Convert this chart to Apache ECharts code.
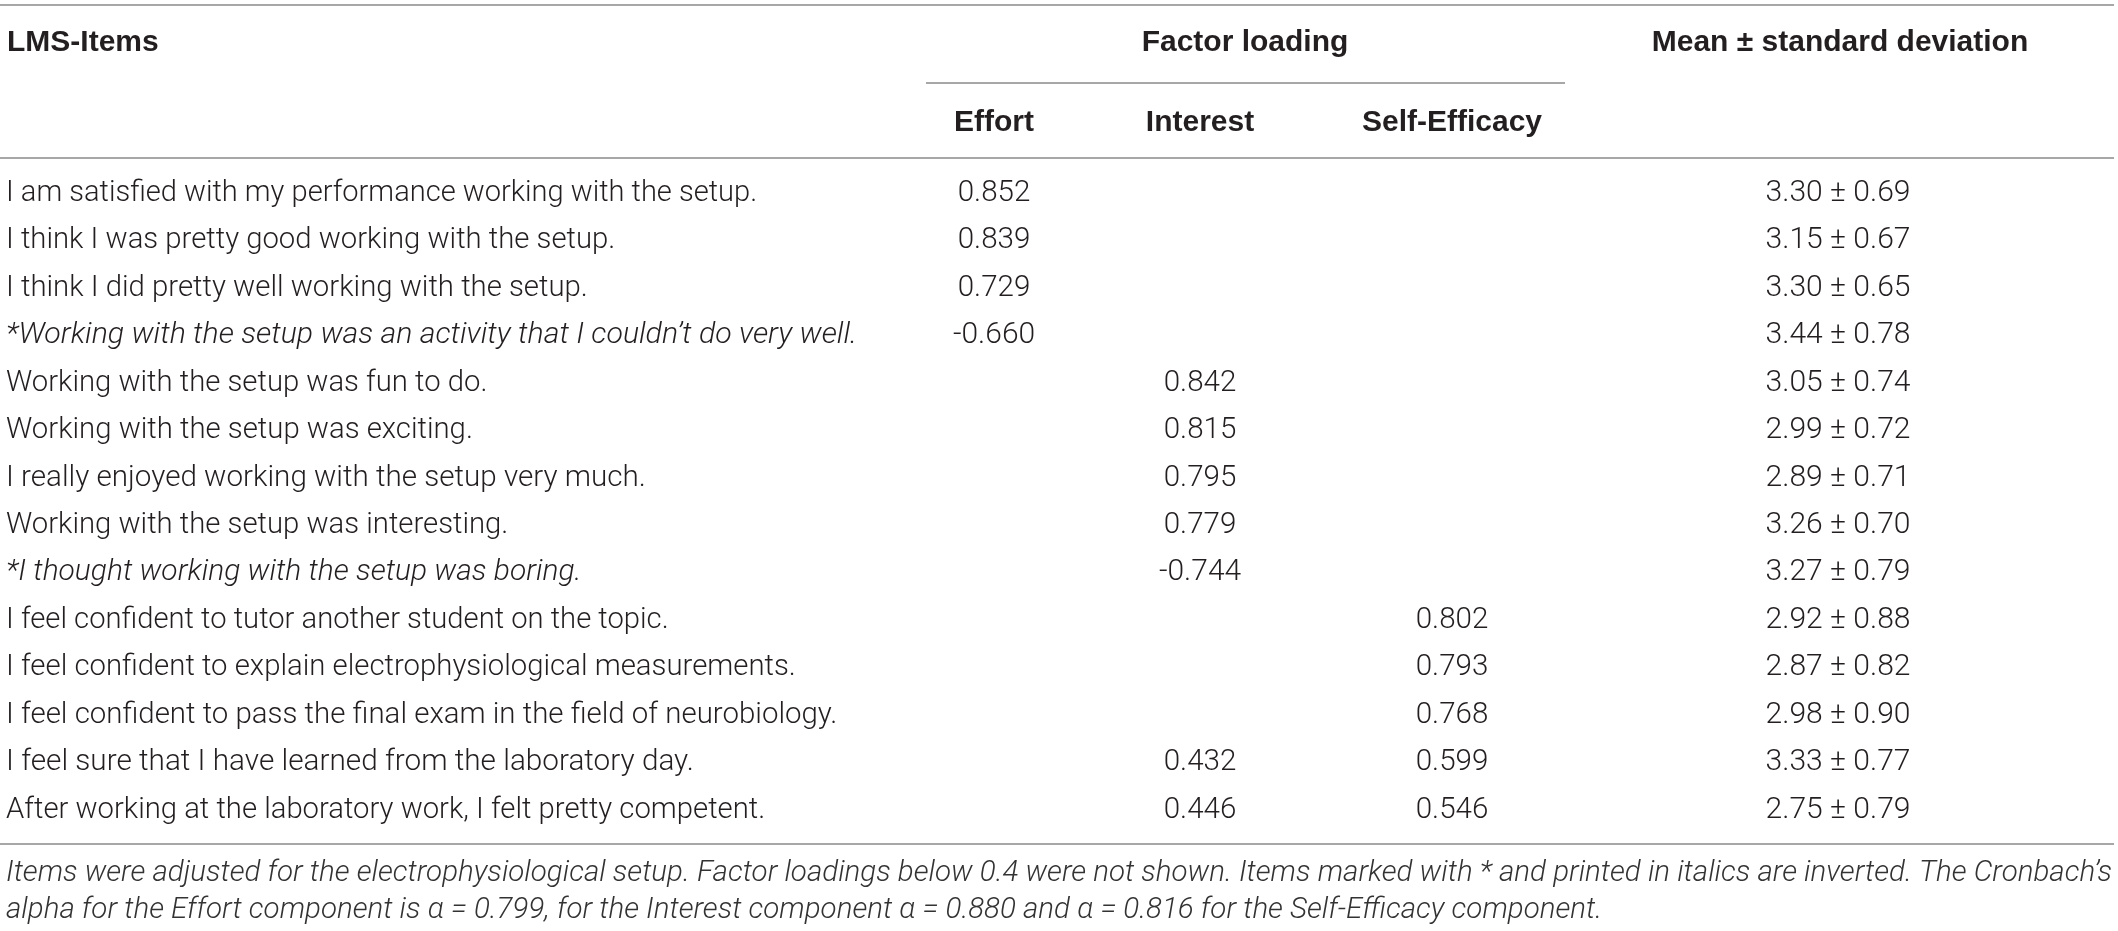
<!DOCTYPE html>
<html>
<head>
<meta charset="utf-8">
<script src="https://cdn.jsdelivr.net/npm/echarts@6/dist/echarts.min.js"></script>
<style>
  html, body { margin: 0; padding: 0; background: #ffffff; }
  #chart { width: 2118px; height: 931px; }
</style>
</head>
<body>
<div id="chart"></div>
<script>
// ---------- data ----------
const items = [
  "I am satisfied with my performance working with the setup.",
  "I think I was pretty good working with the setup.",
  "I think I did pretty well working with the setup.",
  "*Working with the setup was an activity that I couldn\u2019t do very well.",
  "Working with the setup was fun to do.",
  "Working with the setup was exciting.",
  "I really enjoyed working with the setup very much.",
  "Working with the setup was interesting.",
  "*I thought working with the setup was boring.",
  "I feel confident to tutor another student on the topic.",
  "I feel confident to explain electrophysiological measurements.",
  "I feel confident to pass the final exam in the field of neurobiology.",
  "I feel sure that I have learned from the laboratory day.",
  "After working at the laboratory work, I felt pretty competent."
];
const effort       = [0.852, 0.839, 0.729, -0.660, null, null, null, null, null, null, null, null, null, null];
const interest     = [null, null, null, null, 0.842, 0.815, 0.795, 0.779, -0.744, null, null, null, 0.432, 0.446];
const selfEfficacy = [null, null, null, null, null, null, null, null, null, 0.802, 0.793, 0.768, 0.599, 0.546];
const means        = [3.30, 3.15, 3.30, 3.44, 3.05, 2.99, 2.89, 3.26, 3.27, 2.92, 2.87, 2.98, 3.33, 2.75];
const sds          = [0.69, 0.67, 0.65, 0.78, 0.74, 0.72, 0.71, 0.70, 0.79, 0.88, 0.82, 0.90, 0.77, 0.79];

const headerTop    = ["LMS-Items", "Factor loading", "Mean \u00b1 standard deviation"];
const headerSub    = ["Effort", "Interest", "Self-Efficacy"];
const footnote = [
  "Items were adjusted for the electrophysiological setup. Factor loadings below 0.4 were not shown. Items marked with * and printed in italics are inverted. The Cronbach\u2019s",
  "alpha for the Effort component is \u03b1 = 0.799, for the Interest component \u03b1 = 0.880 and \u03b1 = 0.816 for the Self-Efficacy component."
];

// ---------- layout (not data) ----------
const W = 2118, H = 931;
const colX = { item: 6, effort: 994, interest: 1200, self: 1452, mean: 1838 };
const textColor = "#231f20";
const ruleColor = "#8a8a8a";
const bodySize = 29;
const bodyFont = (italic) => (italic ? "italic " : "") + "300 " + bodySize + "px Roboto";
const refFont  = (italic) => (italic ? "italic " : "") + bodySize + "px 'Liberation Sans'";

const cvs = document.createElement("canvas").getContext("2d");
function measure(t, f) { cvs.font = f; return cvs.measureText(t).width; }
function fitScale(t, italic) {
  const a = measure(t, refFont(italic)), b = measure(t, bodyFont(italic));
  return b > 0 ? a / b : 1;
}

const rowIdx = items.map((_, i) => i);

function textSeries(name, xPos, texts, align) {
  const data = [];
  texts.forEach((t, i) => { if (t !== null) data.push([xPos, i, t]); });
  return {
    type: "custom",
    name: name,
    coordinateSystem: "cartesian2d",
    silent: true,
    data: data,
    renderItem: function (params, api) {
      const p = api.coord([api.value(0), api.value(1)]);
      const t = data[params.dataIndex][2];
      const italic = t.charAt(0) === "*";
      return {
        type: "text",
        x: p[0], y: p[1],
        scaleX: fitScale(t, italic),
        style: {
          text: t,
          font: bodyFont(italic),
          fill: textColor,
          align: align,
          verticalAlign: "middle"
        }
      };
    }
  };
}

const fmt3 = v => (v === null ? null : v.toFixed(3));
const meanText = means.map((m, i) => m.toFixed(2) + " \u00b1 " + sds[i].toFixed(2));

// ---------- header / rules / footnote ----------
const headFont = "bold 30px 'Liberation Sans'";
const footFont = "italic 300 29px Roboto";
const footTarget = 2106;
const footScale = footTarget / measure(footnote[0], footFont);

const graphic = [
  { type: "line", shape: { x1: 0, y1: 5, x2: 2114, y2: 5 }, style: { stroke: ruleColor, lineWidth: 1.6 } },
  { type: "line", shape: { x1: 926, y1: 83, x2: 1565, y2: 83 }, style: { stroke: ruleColor, lineWidth: 1.6 } },
  { type: "line", shape: { x1: 0, y1: 158, x2: 2114, y2: 158 }, style: { stroke: ruleColor, lineWidth: 1.6 } },
  { type: "line", shape: { x1: 0, y1: 844, x2: 2114, y2: 844 }, style: { stroke: ruleColor, lineWidth: 1.6 } },
  { type: "text", x: 7, y: 43, style: { text: headerTop[0], font: headFont, fill: textColor, align: "left", verticalAlign: "middle" } },
  { type: "text", x: 1245, y: 43, style: { text: headerTop[1], font: headFont, fill: textColor, align: "center", verticalAlign: "middle" } },
  { type: "text", x: 1840, y: 43, style: { text: headerTop[2], font: headFont, fill: textColor, align: "center", verticalAlign: "middle" } },
  { type: "text", x: colX.effort, y: 123, style: { text: headerSub[0], font: headFont, fill: textColor, align: "center", verticalAlign: "middle" } },
  { type: "text", x: colX.interest, y: 123, style: { text: headerSub[1], font: headFont, fill: textColor, align: "center", verticalAlign: "middle" } },
  { type: "text", x: colX.self, y: 123, style: { text: headerSub[2], font: headFont, fill: textColor, align: "center", verticalAlign: "middle" } },
  { type: "text", x: 6, y: 874, scaleX: footScale, style: { text: footnote[0], font: footFont, fill: "#333333", align: "left", verticalAlign: "middle" } },
  { type: "text", x: 6, y: 911, scaleX: footScale, style: { text: footnote[1], font: footFont, fill: "#333333", align: "left", verticalAlign: "middle" } }
];

const chart = echarts.init(document.getElementById("chart"), null, { renderer: "canvas", width: W, height: H });
chart.setOption({
  animation: false,
  backgroundColor: "#ffffff",
  grid: { left: 0, right: 0, top: 170, height: 664, containLabel: false },
  xAxis: { type: "value", min: 0, max: W, show: false },
  yAxis: { type: "category", data: rowIdx, inverse: true, show: false, boundaryGap: true },
  graphic: graphic,
  series: [
    textSeries("items", colX.item, items, "left"),
    textSeries("Effort", colX.effort, effort.map(fmt3), "center"),
    textSeries("Interest", colX.interest, interest.map(fmt3), "center"),
    textSeries("Self-Efficacy", colX.self, selfEfficacy.map(fmt3), "center"),
    textSeries("Mean", colX.mean, meanText, "center")
  ]
});
</script>
</body>
</html>
